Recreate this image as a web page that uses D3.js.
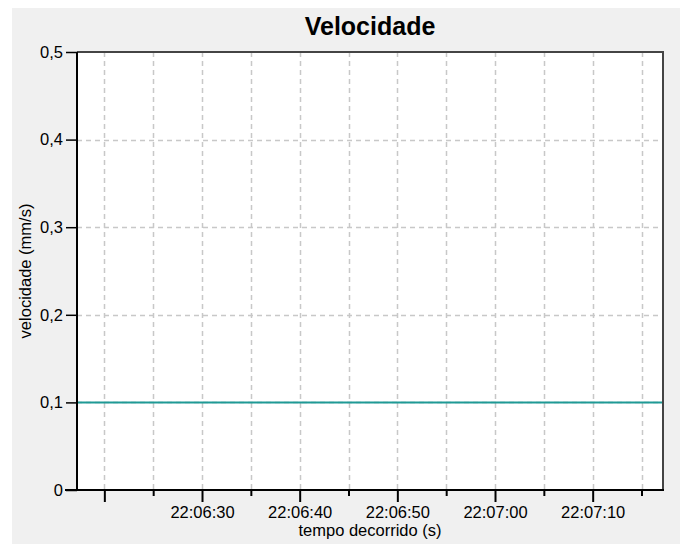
<!DOCTYPE html>
<html>
<head>
<meta charset="utf-8">
<script src="https://cdn.jsdelivr.net/npm/d3@7"></script>
<style>
html,body{margin:0;padding:0;background:#fff;}
svg{display:block;font-family:"Liberation Sans",Arial,sans-serif;}
</style>
</head>
<body>
<svg id="chart" width="680" height="544"></svg>
<script>
// ---- data ----
const title = "Velocidade";
const xLabel = "tempo decorrido (s)";
const yLabel = "velocidade (mm/s)";
const timeDomain = ["22:06:17.2", "22:07:17.2"];
const times = ["22:06:17.2", "22:06:30", "22:06:45", "22:07:00", "22:07:15", "22:07:17.2"];
const speeds = [0.1, 0.1, 0.1, 0.1, 0.1, 0.1];
const yTicks = [0, 0.1, 0.2, 0.3, 0.4, 0.5];
const yTickLabels = ["0", "0,1", "0,2", "0,3", "0,4", "0,5"];
const xMajorTicks = ["22:06:20", "22:06:30", "22:06:40", "22:06:50", "22:07:00", "22:07:10"];
const xMajorLabels = ["", "22:06:30", "22:06:40", "22:06:50", "22:07:00", "22:07:10"];
const xMinorTicks = ["22:06:25", "22:06:35", "22:06:45", "22:06:55", "22:07:05", "22:07:15"];

// ---- helpers ----
function parseT(s){
  const [h,m,sec] = s.split(":");
  const secs = parseFloat(sec);
  return new Date(2020,0,1,+h,+m,Math.floor(secs),Math.round((secs-Math.floor(secs))*1000));
}

const svg = d3.select("#chart");
const W = 680, H = 544;
const plot = {left:77, top:52, right:663, bottom:490};

svg.append("rect").attr("x",12).attr("y",8).attr("width",W-12).attr("height",H-8).attr("fill","#f0f0f0");
svg.append("rect").attr("x",plot.left).attr("y",plot.top)
  .attr("width",plot.right-plot.left).attr("height",plot.bottom-plot.top).attr("fill","#fff");

const x = d3.scaleTime().domain(timeDomain.map(parseT)).range([plot.left, plot.right]);
const y = d3.scaleLinear().domain([0,0.5]).range([plot.bottom, plot.top]);

// grid
const gridG = svg.append("g");
const allX = xMajorTicks.concat(xMinorTicks).map(parseT);
gridG.selectAll("line.vx").data(allX).enter().append("line")
  .attr("x1",d=>Math.round(x(d))+0.5).attr("x2",d=>Math.round(x(d))+0.5)
  .attr("y1",plot.top).attr("y2",plot.bottom)
  .attr("stroke","#c8c8c8").attr("stroke-width",1.5).attr("stroke-dasharray","5,4");
gridG.selectAll("line.hy").data(yTicks.filter(v=>v>0 && v<0.5)).enter().append("line")
  .attr("x1",plot.left).attr("x2",plot.right)
  .attr("y1",d=>Math.round(y(d))+0.5).attr("y2",d=>Math.round(y(d))+0.5)
  .attr("stroke","#c8c8c8").attr("stroke-width",1.5).attr("stroke-dasharray","5,4");

// data line
const line = d3.line().x(d=>x(d.t)).y(d=>y(d.v));
const data = times.map((t,i)=>({t:parseT(t), v:speeds[i]}));
svg.append("path").datum(data).attr("d",line)
  .attr("fill","none").attr("stroke","#1f9a96").attr("stroke-width",2);

// frame top/right
svg.append("line").attr("x1",plot.left).attr("x2",plot.right+1).attr("y1",plot.top).attr("y2",plot.top)
  .attr("stroke","#444").attr("stroke-width",2);
svg.append("line").attr("x1",plot.right).attr("x2",plot.right).attr("y1",plot.top).attr("y2",plot.bottom)
  .attr("stroke","#444").attr("stroke-width",2);

// y axis
const yAxis = d3.axisLeft(y).tickValues(yTicks).tickSize(11).tickPadding(3)
  .tickFormat((d,i)=>yTickLabels[i]);
const gy = svg.append("g").attr("transform",`translate(${plot.left},0)`).call(yAxis);
gy.select(".domain").attr("stroke","#000").attr("stroke-width",2).attr("d",`M0,${plot.top}V${plot.bottom}`);
gy.selectAll(".tick line").attr("stroke","#000").attr("stroke-width",1.5);
gy.selectAll(".tick text").attr("font-size",16.5).attr("fill","#000")
  .attr("font-family","'Liberation Sans',Arial,sans-serif");

// x axis major
const xAxis = d3.axisBottom(x).tickValues(xMajorTicks.map(parseT)).tickSize(12).tickPadding(4)
  .tickFormat((d,i)=>xMajorLabels[i]);
const gx = svg.append("g").attr("transform",`translate(0,${plot.bottom})`).call(xAxis);
gx.select(".domain").attr("stroke","#000").attr("stroke-width",2).attr("d",`M${plot.left-12},0H${plot.right+1}`);
gx.selectAll(".tick line").attr("stroke","#000").attr("stroke-width",2);
gx.selectAll(".tick text").attr("font-size",16.5).attr("fill","#000")
  .attr("font-family","'Liberation Sans',Arial,sans-serif");
// x axis minor
const xAxisMinor = d3.axisBottom(x).tickValues(xMinorTicks.map(parseT)).tickSize(6).tickFormat("");
const gxm = svg.append("g").attr("transform",`translate(0,${plot.bottom})`).call(xAxisMinor);
gxm.select(".domain").remove();
gxm.selectAll(".tick line").attr("stroke","#000").attr("stroke-width",2);

// titles
svg.append("text").attr("x",(plot.left+plot.right)/2).attr("y",35).attr("text-anchor","middle")
  .attr("font-size",25).attr("font-weight","bold").attr("fill","#000").text(title);
svg.append("text").attr("x",(plot.left+plot.right)/2).attr("y",536).attr("text-anchor","middle")
  .attr("font-size",16.5).attr("fill","#000").text(xLabel);
svg.append("text").attr("transform",`translate(31,${(plot.top+plot.bottom)/2}) rotate(-90)`)
  .attr("text-anchor","middle").attr("font-size",16.5).attr("fill","#000").text(yLabel);
</script>
</body>
</html>
